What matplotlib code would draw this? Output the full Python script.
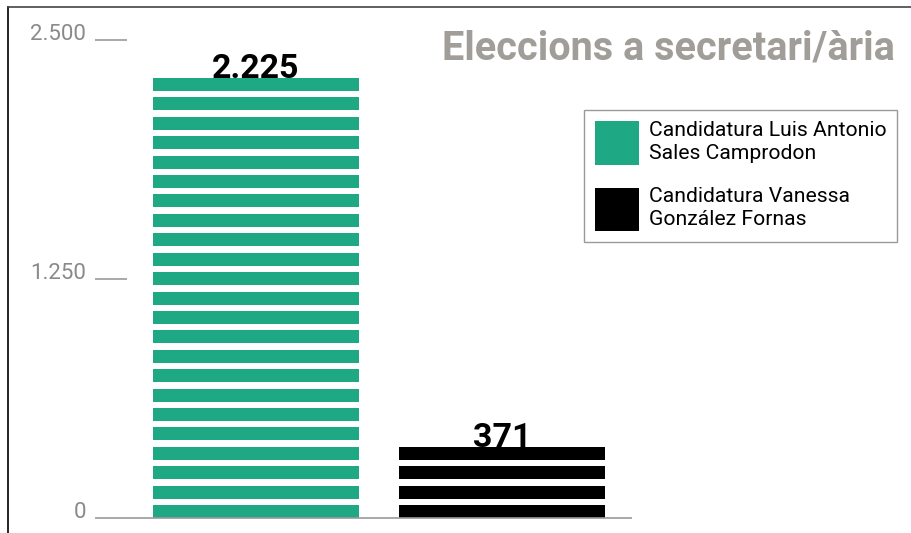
import numpy as np
import matplotlib
matplotlib.use('Agg')
import matplotlib.pyplot as plt
from matplotlib.patches import Patch
from matplotlib.lines import Line2D

# Dades
candidatures = ['Candidatura Luis Antonio\nSales Camprodon',
                'Candidatura Vanessa\nGonzález Fornas']
vots = [2225, 371]
etiquetes = ['2.225', '371']
colors = ['#1ea883', '#000000']
ticks_y = [0, 1250, 2500]
ticks_txt = ['0', '1.250', '2.500']
titol = 'Eleccions a secretari/ària'
unitat = 100  # cada franja representa 100 vots

plt.rcParams['font.family'] = ['Roboto', 'DejaVu Sans']

fig = plt.figure(figsize=(9.11, 5.33), dpi=100)
ax = fig.add_axes([0, 0, 1, 1])
ax.axis('off')

# escales (px -> dades)
px_x = 246.0
ax.set_xlim(-256 / px_x, (911 - 256) / px_x)
k = 478 / 2500
ax.set_ylim(-15 / k, (533 - 15) / k)

pas = 101.5
alt = 68
amplada = 206 / px_x

for i, (v, c, et) in enumerate(zip(vots, colors, etiquetes)):
    n = int(np.ceil(v / unitat))
    baixos = np.arange(n) * pas
    ax.bar([i] * n, [alt] * n, bottom=baixos, width=amplada, color=c,
           edgecolor='none')
    ax.text(i, baixos[-1] + alt, et, ha='center', va='baseline',
            fontsize=24.5, fontweight='bold', color='black')

# eix
x0 = (95 - 256) / px_x
x1 = (632 - 256) / px_x
xt = (127 - 256) / px_x
ax.hlines(0, x0, x1, color='#9a9a9a', lw=1.2)
for t, s in zip(ticks_y, ticks_txt):
    if t:
        ax.hlines(t, x0, xt, color='#9a9a9a', lw=1.2)
    ax.text((86 - 256) / px_x, t, s, ha='right', va='baseline',
            fontsize=16, color='#8a8a8a')

# titol
fig.text(895 / 911, 1 - 60 / 533, titol, ha='right', va='baseline',
         fontsize=28.5, fontweight='bold', color='#a19e99')

# llegenda
handles = [Patch(facecolor=c, edgecolor='none') for c in colors]
leg = ax.legend(handles, candidatures, loc='upper right',
                bbox_to_anchor=(897 / 911, 1 - 110 / 533),
                bbox_transform=fig.transFigure, borderaxespad=0,
                fancybox=False, edgecolor='#9a9a9a', framealpha=1,
                handlelength=2.1, handleheight=2.8, handletextpad=0.45,
                borderpad=0.5, labelspacing=1.05,
                prop={'size': 15.2})
for t in leg.get_texts():
    t.set_linespacing(1.3)
leg.get_frame().set_linewidth(1)

# marc
fig.add_artist(Line2D([8 / 911, 8 / 911], [0, 1 - 7 / 533],
                      transform=fig.transFigure, color='black', lw=1.2))
fig.add_artist(Line2D([8 / 911, 1], [1 - 7 / 533, 1 - 7 / 533],
                      transform=fig.transFigure, color='#444444', lw=1.2))

fig.savefig('out.png', dpi=100)
